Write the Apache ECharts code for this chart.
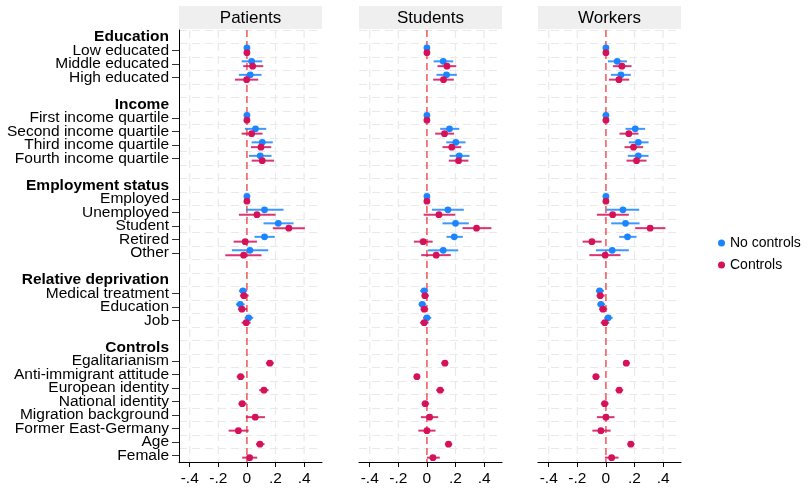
<!DOCTYPE html>
<html>
<head>
<meta charset="utf-8">
<script src="https://cdn.jsdelivr.net/npm/echarts@6/dist/echarts.min.js"></script>
<style>html,body{margin:0;padding:0;background:#fff}#chart{width:808px;height:490px}</style>
</head>
<body>
<div id="chart"></div>
<script>
// blocks and their variables, top to bottom
let sections = ['Education', 'Income', 'Employment status', 'Relative deprivation', 'Controls']
let sectionVars = [
	['Low educated', 'Middle educated', 'High educated'],
	['First income quartile', 'Second income quartile', 'Third income quartile', 'Fourth income quartile'],
	['Employed', 'Unemployed', 'Student', 'Retired', 'Other'],
	['Medical treatment', 'Education', 'Job'],
	['Egalitarianism', 'Anti-immigrant attitude', 'European identity', 'National identity',
	 'Migration background', 'Former East-Germany', 'Age', 'Female']
]
let panels = ['Patients', 'Students', 'Workers']
let seriesNames = ['No controls', 'Controls']
let seriesColors = ['#1A85FF', '#D41159']
let xTicks = [-0.4, -0.2, 0, 0.2, 0.4]
let xTickLabels = ['-.4', '-.2', '0', '.2', '.4']

// [estimate, ci low, ci high] per variable, in the order above
let patientsNoControls = [
	[0,0,0], [0.033,-0.037,0.107], [0.023,-0.056,0.102],
	[0,0,0], [0.06,-0.014,0.135], [0.107,0.033,0.181], [0.093,0.014,0.172],
	[0,0,0], [0.123,-0.007,0.256], [0.219,0.116,0.326], [0.123,0.053,0.195], [0.021,-0.105,0.149],
	[-0.028,-0.056,0.002], [-0.047,-0.077,-0.016], [0.012,-0.016,0.044]
]
let patientsControls = [
	[0,0,0], [0.04,-0.026,0.114], [-0.002,-0.084,0.079],
	[0,0,0], [0.033,-0.037,0.109], [0.098,0.028,0.17], [0.107,0.033,0.19],
	[0,0,0], [0.07,-0.056,0.2], [0.293,0.181,0.405], [-0.012,-0.093,0.07], [-0.023,-0.151,0.102],
	[-0.021,-0.049,0.012], [-0.035,-0.063,0.002], [-0.005,-0.037,0.026],
	[0.16,0.133,0.188], [-0.044,-0.072,-0.016], [0.119,0.086,0.151], [-0.033,-0.06,-0.002],
	[0.058,-0.007,0.126], [-0.06,-0.128,0.012], [0.091,0.063,0.123], [0.019,-0.033,0.072]
]
let studentsNoControls = [
	[0,0,0], [0.114,0.047,0.184], [0.137,0.067,0.209],
	[0,0,0], [0.158,0.093,0.226], [0.202,0.135,0.27], [0.226,0.158,0.298],
	[0,0,0], [0.147,0.035,0.258], [0.2,0.109,0.293], [0.191,0.137,0.251], [0.114,0.007,0.219],
	[-0.019,-0.047,0.009], [-0.033,-0.058,-0.005], [0,-0.028,0.03]
]
let studentsControls = [
	[0,0,0], [0.14,0.074,0.205], [0.116,0.044,0.188],
	[0,0,0], [0.123,0.058,0.19], [0.174,0.109,0.24], [0.221,0.153,0.29],
	[0,0,0], [0.084,-0.023,0.198], [0.347,0.249,0.451], [-0.026,-0.091,0.04], [0.065,-0.04,0.167],
	[-0.014,-0.037,0.014], [-0.019,-0.044,0.009], [-0.019,-0.049,0.012],
	[0.126,0.1,0.149], [-0.07,-0.093,-0.047], [0.093,0.065,0.121], [-0.012,-0.037,0.016],
	[0.019,-0.042,0.079], [0,-0.06,0.06], [0.151,0.126,0.177], [0.042,0,0.09]
]
let workersNoControls = [
	[0,0,0], [0.079,0.014,0.147], [0.105,0.035,0.174],
	[0,0,0], [0.205,0.137,0.274], [0.226,0.16,0.298], [0.226,0.153,0.298],
	[0,0,0], [0.119,0.002,0.233], [0.137,0.037,0.235], [0.151,0.093,0.214], [0.044,-0.07,0.16],
	[-0.044,-0.07,-0.014], [-0.035,-0.06,-0.005], [0.016,-0.012,0.047]
]
let workersControls = [
	[0,0,0], [0.112,0.049,0.179], [0.091,0.021,0.163],
	[0,0,0], [0.16,0.095,0.228], [0.193,0.13,0.26], [0.214,0.144,0.284],
	[0,0,0], [0.047,-0.063,0.16], [0.309,0.205,0.416], [-0.098,-0.163,-0.03], [-0.005,-0.116,0.102],
	[-0.04,-0.065,-0.009], [-0.021,-0.047,0.009], [-0.007,-0.037,0.023],
	[0.142,0.119,0.167], [-0.07,-0.093,-0.044], [0.093,0.067,0.121], [-0.009,-0.035,0.019],
	[0,-0.063,0.06], [-0.035,-0.095,0.033], [0.174,0.151,0.2], [0.04,-0.007,0.088]
]
let panelData = [
	[patientsNoControls, patientsControls],
	[studentsNoControls, studentsControls],
	[workersNoControls, workersControls]
]

// build row list: header, variables, blank line between blocks
let rowLabels = []
let isHeader = []
let isVar = []
let varRows = []
sections.forEach((s, i) => {
	if (i > 0) { rowLabels.push(''); isHeader.push(false); isVar.push(false) }
	rowLabels.push(s); isHeader.push(true); isVar.push(false)
	sectionVars[i].forEach(v => {
		varRows.push(rowLabels.length)
		rowLabels.push(v); isHeader.push(false); isVar.push(true)
	})
})

let font = '"Liberation Sans", Arial, Helvetica, sans-serif'
let gridLeft = [179, 359, 538]
let gridWidth = 143

function barsItem(offset, color) {
	return function (params, api) {
		let y = api.value(3)
		let p = api.coord([api.value(0), y])
		let a = api.coord([api.value(1), y])
		let b = api.coord([api.value(2), y])
		return {
			type: 'group',
			children: [
				{ type: 'line', shape: { x1: a[0], y1: a[1] + offset, x2: b[0], y2: b[1] + offset },
					style: { stroke: color, lineWidth: 2, opacity: 0.85 } },
				{ type: 'circle', shape: { cx: p[0], cy: p[1] + offset, r: 3.4 },
					style: { fill: color } }
			]
		}
	}
}

function vLine(color, dash, width) {
	return function (params, api) {
		let cs = params.coordSys
		let x = api.coord([api.value(0), 0])[0]
		return { type: 'line', shape: { x1: x, y1: cs.y, x2: x, y2: cs.y + cs.height },
			style: { stroke: color, lineWidth: width, lineDash: dash } }
	}
}

let grids = [], xAxes = [], yAxes = [], series = [], graphics = []
panels.forEach((name, i) => {
	grids.push({ left: gridLeft[i], width: gridWidth, top: 30, bottom: 28, outerBoundsMode: 'none' })
	xAxes.push({
		type: 'value', gridIndex: i, min: -0.475, max: 0.525,
		axisLine: { show: true, onZero: false, lineStyle: { color: '#000', width: 1 } },
		axisTick: { show: true, customValues: xTicks, length: 5, lineStyle: { color: '#000' } },
		axisLabel: {
			customValues: xTicks, fontSize: 15.5, color: '#000', fontFamily: font, margin: 9,
			formatter: v => {
				let k = xTicks.findIndex(t => Math.abs(t - v) < 1e-6)
				return k >= 0 ? xTickLabels[k] : ''
			}
		},
		splitLine: { show: false }
	})
	yAxes.push({
		type: 'category', gridIndex: i, data: rowLabels, inverse: true, position: 'left',
		axisLine: { show: i == 0, onZero: false, lineStyle: { color: '#000' } },
		axisTick: { show: i == 0, alignWithLabel: true, length: 7, interval: idx => isVar[idx],
			lineStyle: { color: '#333' } },
		axisLabel: {
			show: i == 0, interval: 0, fontSize: 15.5, color: '#000', fontFamily: font, margin: 10,
			formatter: (v, idx) => isHeader[idx] ? '{h|' + v + '}' : v,
			rich: { h: { fontWeight: 'bold', fontSize: 15.5, color: '#000', fontFamily: font } }
		},
		splitLine: { show: true, interval: 0, lineStyle: { color: '#e9e9e9', width: 1.2, type: [8, 5] } }
	})
	series.push({
		type: 'custom', xAxisIndex: i, yAxisIndex: i, silent: true, z: 1,
		data: xTicks.filter(t => t != 0).map(t => [t, 0]), encode: { x: 0, y: 1 },
		renderItem: vLine('#e9e9e9', [8, 5], 1.2)
	})
	series.push({
		type: 'custom', xAxisIndex: i, yAxisIndex: i, silent: true, z: 2,
		data: [[0, 0]], encode: { x: 0, y: 1 },
		renderItem: vLine('#EE4B4B', [7, 4], 1.4)
	})
	seriesNames.forEach((sn, j) => {
		let offs = j == 0 ? -2.4 : 2.4
		series.push({
			name: sn, type: 'custom', xAxisIndex: i, yAxisIndex: i, z: 3 + j,
			itemStyle: { color: seriesColors[j] },
			data: panelData[i][j].map((d, k) => [d[0], d[1], d[2], varRows[k]]),
			encode: { x: [0, 1, 2], y: 3 },
			renderItem: barsItem(offs, seriesColors[j])
		})
	})
	graphics.push({ type: 'rect', left: gridLeft[i], top: 6,
		shape: { width: gridWidth, height: 23 }, style: { fill: '#efefef' } })
	graphics.push({ type: 'text', x: gridLeft[i] + gridWidth / 2, y: 18,
		style: { text: name, fill: '#000', font: '17px ' + font,
			align: 'center', verticalAlign: 'middle', textAlign: 'center', textVerticalAlign: 'middle' } })
})

let chart = echarts.init(document.getElementById('chart'))
chart.setOption({
	animation: false,
	textStyle: { fontFamily: font },
	grid: grids,
	xAxis: xAxes,
	yAxis: yAxes,
	legend: {
		orient: 'vertical', left: 713, top: 231, itemWidth: 7, itemHeight: 7, itemGap: 8, itemTextGap: 10,
		textStyle: { fontSize: 14, color: '#000', fontFamily: font },
		data: seriesNames.map(n => ({ name: n, icon: 'circle' }))
	},
	graphic: graphics,
	series: series
})
</script>
</body>
</html>
